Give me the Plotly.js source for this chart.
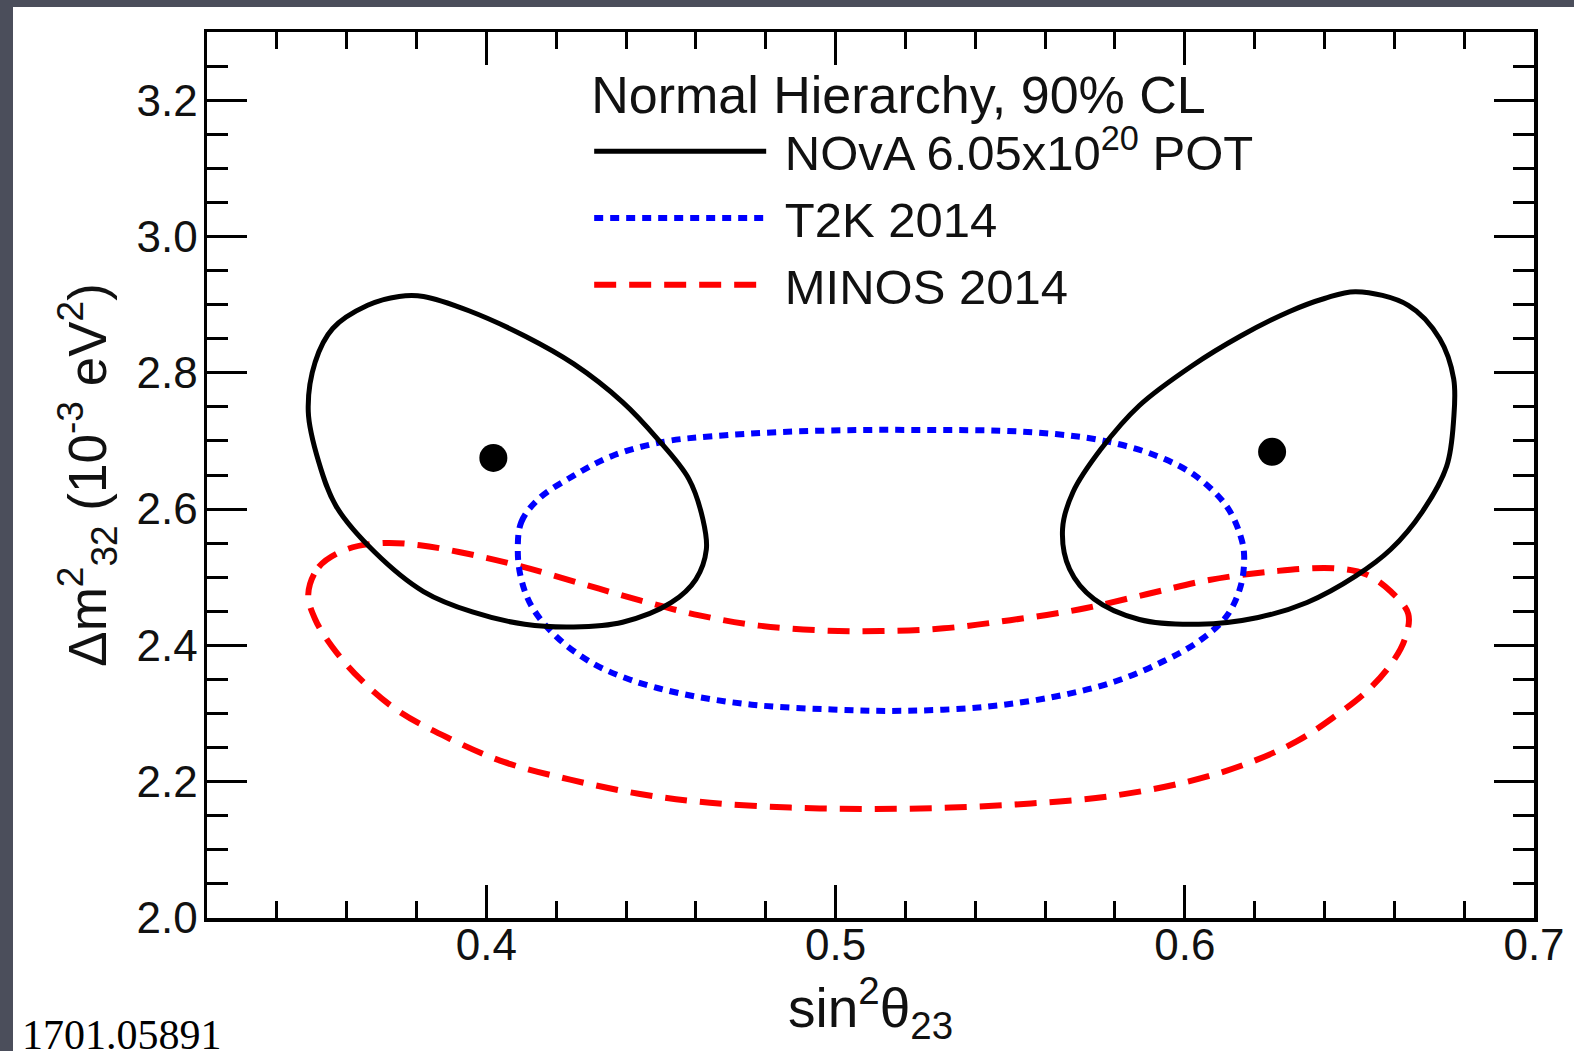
<!DOCTYPE html>
<html>
<head>
<meta charset="utf-8">
<script src="https://cdn.plot.ly/plotly-3.0.1.min.js"></script>
<style>
  html, body { margin: 0; padding: 0; width: 1574px; height: 1051px; overflow: hidden; background: #4b4e5b; }
  #chart { position: absolute; left: 13px; top: 7px; width: 1561px; height: 1044px; }
</style>
</head>
<body>
<div id="chart"></div>
<script>
// NOvA 90% CL contour, lower octant (sin^2 theta23, dm^2_32 in 1e-3 eV^2)
const novaLowX = [0.349,0.351,0.356,0.366,0.375,0.382,0.395,0.411,0.425,0.439,0.449,0.458,0.462,0.463,0.460,0.453,0.439,0.425,0.411,0.396,0.382,0.368,0.357,0.352,0.349];
const novaLowY = [2.743,2.816,2.865,2.899,2.912,2.912,2.891,2.854,2.813,2.757,2.703,2.644,2.585,2.541,2.497,2.463,2.434,2.427,2.431,2.449,2.479,2.537,2.604,2.669,2.743];
// NOvA 90% CL contour, upper octant
const novaHighX = [0.649,0.664,0.673,0.677,0.677,0.675,0.668,0.659,0.649,0.635,0.621,0.604,0.587,0.574,0.567,0.565,0.568,0.576,0.587,0.602,0.616,0.630,0.640,0.649];
const novaHighY = [2.919,2.899,2.850,2.791,2.732,2.663,2.596,2.541,2.502,2.463,2.441,2.431,2.438,2.468,2.512,2.571,2.625,2.688,2.752,2.810,2.854,2.890,2.909,2.919];
// NOvA best-fit points
const bestX = [0.402, 0.625];
const bestY = [2.675, 2.684];
// T2K 2014 90% CL contour
const t2kX = [0.409,0.410,0.415,0.425,0.436,0.451,0.465,0.484,0.507,0.528,0.547,0.563,0.577,0.592,0.603,0.612,0.616,0.617,0.616,0.612,0.604,0.594,0.580,0.563,0.543,0.520,0.499,0.476,0.456,0.441,0.430,0.420,0.413,0.410,0.409];
const t2kY = [2.538,2.581,2.615,2.649,2.678,2.699,2.707,2.713,2.716,2.716,2.715,2.710,2.700,2.678,2.649,2.604,2.560,2.531,2.487,2.443,2.406,2.377,2.347,2.325,2.310,2.304,2.306,2.313,2.329,2.350,2.375,2.413,2.457,2.497,2.538];
// MINOS 2014 90% CL contour
const minosX = [0.349,0.352,0.360,0.370,0.381,0.395,0.410,0.427,0.444,0.461,0.478,0.496,0.513,0.531,0.550,0.570,0.589,0.607,0.626,0.643,0.652,0.659,0.664,0.663,0.659,0.652,0.643,0.632,0.617,0.600,0.579,0.556,0.533,0.510,0.487,0.464,0.444,0.424,0.405,0.390,0.375,0.364,0.356,0.351,0.349];
const minosY = [2.475,2.515,2.541,2.550,2.547,2.534,2.516,2.491,2.466,2.444,2.429,2.422,2.421,2.425,2.437,2.453,2.475,2.496,2.509,2.513,2.504,2.479,2.446,2.409,2.372,2.332,2.296,2.259,2.225,2.199,2.179,2.168,2.162,2.160,2.162,2.169,2.182,2.203,2.229,2.262,2.303,2.350,2.397,2.438,2.475];

const seriesNames = ['NOvA 6.05x10<sup>20</sup> POT', 'T2K 2014', 'MINOS 2014'];
const legendTitle = 'Normal Hierarchy, 90% CL';
const xTitle = 'sin<sup>2</sup>θ<sub>23</sub>';
const yTitle = 'Δm<sup>2</sup><sub>32</sub> (10<sup>-3</sup> eV<sup>2</sup>)';
const footnote = '1701.05891';

const FONT = 'Liberation Sans, Arial, Helvetica, sans-serif';
const GAP = '\u00a0';

const traces = [
  {x: minosX, y: minosY, mode: 'lines', name: GAP + seriesNames[2], legendrank: 3,
   line: {color: '#ff0000', width: 6, dash: '22px,13px', shape: 'spline', smoothing: 1}},
  {x: t2kX, y: t2kY, mode: 'lines', name: GAP + seriesNames[1], legendrank: 2,
   line: {color: '#0000ff', width: 6, dash: '9px,7px', shape: 'spline', smoothing: 1}},
  {x: novaLowX, y: novaLowY, mode: 'lines', name: GAP + seriesNames[0], legendrank: 1, legendgroup: 'nova',
   line: {color: '#000000', width: 5, shape: 'spline', smoothing: 1}},
  {x: novaHighX, y: novaHighY, mode: 'lines', name: GAP + seriesNames[0], legendgroup: 'nova', showlegend: false,
   line: {color: '#000000', width: 5, shape: 'spline', smoothing: 1}},
  {x: bestX, y: bestY, mode: 'markers', name: 'best fit', showlegend: false,
   marker: {color: '#000000', size: 28}}
];

const layout = {
  width: 1561, height: 1044,
  margin: {l: 194, r: 40, t: 25, b: 133},
  paper_bgcolor: '#ffffff', plot_bgcolor: '#ffffff',
  font: {family: FONT, color: '#111111'},
  showlegend: true,
  legend: {
    x: 0.288, y: 0.985, xanchor: 'left', yanchor: 'top',
    bgcolor: 'rgba(0,0,0,0)', borderwidth: 0,
    font: {family: FONT, size: 49, color: '#111111'},
    title: {text: legendTitle, side: 'top', font: {family: FONT, size: 52, color: '#111111'}},
    itemwidth: 172, tracegroupgap: 0, itemclick: false
  },
  xaxis: {
    range: [0.32, 0.70], dtick: 0.1, tick0: 0, tickformat: '.1f',
    showline: true, linecolor: '#000', linewidth: 3.5, mirror: 'ticks',
    ticks: 'inside', ticklen: 33, tickwidth: 3, tickcolor: '#000',
    minor: {dtick: 0.02, ticks: 'inside', ticklen: 17, tickwidth: 3, tickcolor: '#000'},
    showgrid: false, zeroline: false, ticklabelstandoff: -14,
    tickfont: {family: FONT, size: 44, color: '#111'},
    title: {text: xTitle, font: {family: FONT, size: 55, color: '#111'}, standoff: 10}
  },
  yaxis: {
    range: [2.0, 3.3], dtick: 0.2, tick0: 0, tickformat: '.1f',
    showline: true, linecolor: '#000', linewidth: 3.5, mirror: 'ticks',
    ticks: 'inside', ticklen: 40, tickwidth: 3, tickcolor: '#000',
    minor: {dtick: 0.05, ticks: 'inside', ticklen: 21, tickwidth: 3, tickcolor: '#000'},
    showgrid: false, zeroline: false, ticklabelstandoff: -3,
    tickfont: {family: FONT, size: 44, color: '#111'},
    title: {text: yTitle, font: {family: FONT, size: 53, color: '#111'}, standoff: 14}
  },
  annotations: [
    {text: footnote, xref: 'paper', yref: 'paper', x: -0.141, y: -0.160,
     xanchor: 'left', yanchor: 'bottom', showarrow: false,
     font: {family: 'Liberation Serif, Times New Roman, serif', size: 42, color: '#000'}}
  ]
};

Plotly.newPlot('chart', traces, layout, {displayModeBar: false, staticPlot: true});
</script>
</body>
</html>
